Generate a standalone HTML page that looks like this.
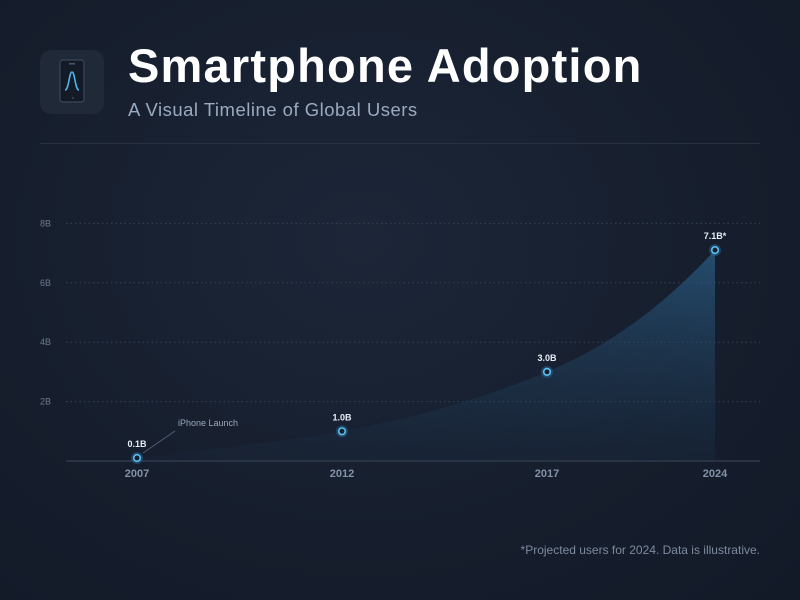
<!DOCTYPE html>
<html><head><meta charset="utf-8"><style>
html,body{margin:0;padding:0;width:800px;height:600px;overflow:hidden}
body{background:radial-gradient(ellipse at 45% 40%,#1c2638 0%,#161e2d 60%,#121a28 100%);font-family:"Liberation Sans",sans-serif;position:relative}
.icon{position:absolute;left:40px;top:50px;width:64px;height:64px;border-radius:11px;background:#1f2938}
h1{position:absolute;left:128px;top:38px;margin:0;font-size:47px;font-weight:bold;color:#fff;letter-spacing:1.2px}
.sub{position:absolute;left:128px;top:99px;font-size:18.5px;color:#9aaac0;letter-spacing:0.5px}
.div{position:absolute;left:40px;top:143px;width:720px;height:1px;background:#263142}
.foot{position:absolute;right:40px;top:543px;font-size:12px;color:#7d8a9e}
svg{position:absolute;left:0;top:0}
</style></head><body>
<div class="icon">
<svg width="64" height="64" viewBox="0 0 64 64"><rect x="20" y="10" width="24" height="42" rx="3" fill="#141b27" stroke="#3a475a" stroke-width="1.2"/><rect x="29" y="13" width="6" height="1.5" fill="#4a586c"/><path d="M25 40 C29 40 29 22 32 22 C35 22 35 40 39 40" fill="none" stroke="#4fb3f0" stroke-width="1.6"/><circle cx="33" cy="48" r="0.8" fill="#667"/></svg>
</div>
<h1>Smartphone Adoption</h1>
<div class="sub">A Visual Timeline of Global Users</div>
<div class="div"></div>
<svg id="chart" width="800" height="600">
<defs>
<linearGradient id="ag" x1="0" y1="0" x2="0" y2="1"><stop offset="0" stop-color="#2a5a80" stop-opacity="0.85"/><stop offset="1" stop-color="#1d3650" stop-opacity="0.25"/></linearGradient>
<linearGradient id="hg" x1="0" y1="0" x2="1" y2="0"><stop offset="0" stop-color="#fff" stop-opacity="0.1"/><stop offset="0.4" stop-color="#fff" stop-opacity="0.6"/><stop offset="1" stop-color="#fff" stop-opacity="1"/></linearGradient>
<mask id="fm"><rect x="0" y="0" width="800" height="600" fill="url(#hg)"/></mask>
</defs>
</svg>
<div class="foot">*Projected users for 2024. Data is illustrative.</div>
<script>
const years = ['2007','2012','2017','2024'];
const users = [0.1, 1.0, 3.0, 7.1];
const valueLabels = ['0.1B','1.0B','3.0B','7.1B*'];
const yTicks = [2,4,6,8];
const yTickLabels = ['2B','4B','6B','8B'];

const svg = document.getElementById('chart');
const NS = 'http://www.w3.org/2000/svg';
const x0 = 137, step = 205, xMax = 715, yBase = 461, yPer = 29.7;
function x(i){ return Math.min(x0 + i*step, xMax); }
function y(v){ return yBase - v*yPer; }
function mk(t, a){ const e = document.createElementNS(NS, t); for (const k in a) e.setAttribute(k, a[k]); svg.appendChild(e); return e; }

yTicks.forEach((t,i)=>{
  const g = mk('line',{x1:66,x2:760,y1:y(t),y2:y(t),stroke:'#34425a','stroke-width':1,'stroke-dasharray':'1.5 3'});
  
  
  const l = mk('text',{x:40,y:y(t)+3,'font-size':9,fill:'#6c7a8f'});
  l.textContent = yTickLabels[i];
  
  
});

// area with monotone cubic
const pts = users.map((v,i)=>[x(i), y(v)]);
const n = pts.length;
const sl = [];
for (let i=0;i<n-1;i++) sl.push((pts[i+1][1]-pts[i][1])/(pts[i+1][0]-pts[i][0]));
const tg = pts.map((p,i)=> i===0 ? sl[0] : i===n-1 ? sl[n-2] : (sl[i-1]*sl[i]<=0 ? 0 : 2/(1/sl[i-1]+1/sl[i])));
tg[n-1] = sl[n-2]*1.5;
let d = 'M'+pts[0][0]+','+yBase+' L'+pts[0][0]+','+pts[0][1];
for (let i=0;i<n-1;i++){
  const [ax,ay]=pts[i],[bx,by]=pts[i+1];
  const dx=(bx-ax)/3;
  d += ' C'+(ax+dx)+','+(ay+tg[i]*dx)+' '+(bx-dx)+','+(by-tg[i+1]*dx)+' '+bx+','+by;
}
d += ' L'+pts[n-1][0]+','+yBase+' Z';
const area = mk('path',{d:d,fill:'url(#ag)',mask:'url(#fm)'});



const axis = mk('line',{x1:66,x2:760,y1:yBase,y2:yBase,stroke:'#2e3a4c','stroke-width':1.5});



const al = mk('line',{x1:x(0)+6,y1:y(users[0])-5,x2:175,y2:431,stroke:'#55637a','stroke-width':0.8});


const at = mk('text',{x:178,y:426,'font-size':9,fill:'#98a6ba'});
at.textContent='iPhone Launch';



users.forEach((v,i)=>{
  const h = mk('circle',{cx:x(i),cy:y(v),r:6,fill:'#2a6f9e','fill-opacity':0.45});
  
  
  const c = mk('circle',{cx:x(i),cy:y(v),r:3.3,fill:'#16202f',stroke:'#5cc0f2','stroke-width':1.6});
  
  
  const vl = mk('text',{x:x(i),y:y(v)-11,'font-size':9,'font-weight':'bold',fill:'#e8eef6','text-anchor':'middle'});
  vl.textContent = valueLabels[i];
  
  
  const xl = mk('text',{x:x(i),y:477,'font-size':11,'font-weight':'bold',fill:'#8392a8','text-anchor':'middle'});
  xl.textContent = years[i];
  
  
});
</script>
</body></html>
